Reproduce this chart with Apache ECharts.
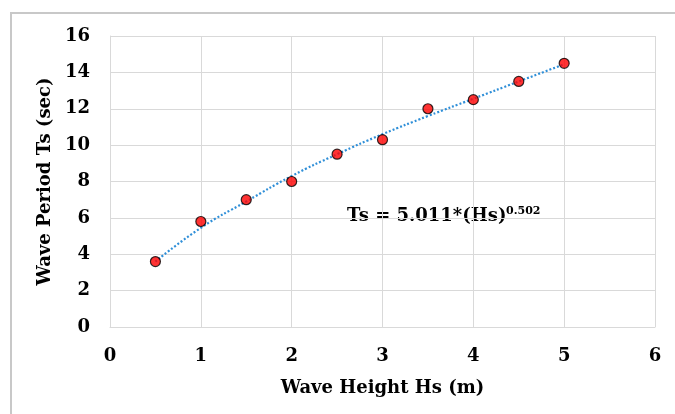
<!DOCTYPE html>
<html><head><meta charset="utf-8">
<script src="https://cdn.jsdelivr.net/npm/echarts@6/dist/echarts.min.js"></script>
<style>html,body{margin:0;padding:0;background:#fff}#c{width:675px;height:414px}</style>
</head><body><div id="c"></div>
<script>
const waveHeight = [0.5, 1, 1.5, 2, 2.5, 3, 3.5, 4, 4.5, 5];
const wavePeriod = [3.6, 5.8, 7.0, 8.0, 9.5, 10.3, 12.0, 12.5, 13.5, 14.5];
const trendX = [0.5, 1, 1.5, 2, 2.5, 3, 3.5, 4, 4.5, 5];
const trendY = [3.6, 5.45, 6.9, 8.3, 9.5, 10.6, 11.6, 12.55, 13.5, 14.45];
const xTitle = 'Wave Height Hs (m)';
const yTitle = 'Wave Period Ts (sec)';
const eqMain = 'Ts = 5.011*(Hs)';
const eqExp = '0.502';

const F = 'DejaVu Serif';
const chart = echarts.init(document.getElementById('c'), null, {renderer: 'canvas'});
chart.setOption({
  animation: false,
  backgroundColor: '#fff',
  grid: {left: 110, right: 20, top: 36, bottom: 87},
  graphic: [
    {type: 'rect', shape: {x: 11, y: 13, width: 700, height: 450}, style: {fill: 'none', stroke: '#c8c8c8', lineWidth: 2}, z: -1},
    {type: 'text', x: 347, y: 216, style: {text: eqMain, fontFamily: F, fontWeight: 'bold', fontSize: 18, fill: '#000', textVerticalAlign: 'middle', verticalAlign: 'middle'}},
    {type: 'text', x: 506, y: 211, style: {text: eqExp, fontFamily: F, fontWeight: 'bold', fontSize: 11, fill: '#000', textVerticalAlign: 'middle', verticalAlign: 'middle'}}
  ],
  xAxis: {
    type: 'value', min: 0, max: 6, interval: 1,
    name: xTitle, nameLocation: 'middle', nameGap: 52,
    nameTextStyle: {fontFamily: F, fontWeight: 'bold', fontSize: 18, color: '#000'},
    axisLine: {show: true, lineStyle: {color: '#d9d9d9'}},
    axisTick: {show: false},
    axisLabel: {fontFamily: F, fontWeight: 'bold', fontSize: 18, color: '#000', margin: 20},
    splitLine: {show: true, lineStyle: {color: '#d9d9d9'}}
  },
  yAxis: {
    type: 'value', min: 0, max: 16, interval: 2,
    name: yTitle, nameLocation: 'middle', nameGap: 56,
    nameTextStyle: {fontFamily: F, fontWeight: 'bold', fontSize: 18, color: '#000'},
    axisLine: {show: true, lineStyle: {color: '#d9d9d9'}},
    axisTick: {show: false},
    axisLabel: {fontFamily: F, fontWeight: 'bold', fontSize: 18, color: '#000', margin: 20},
    splitLine: {show: true, lineStyle: {color: '#d9d9d9'}}
  },
  series: [
    {type: 'line', data: trendX.map((x, i) => [x, trendY[i]]), smooth: true, symbol: 'none',
     lineStyle: {color: '#2f8fd8', width: 2.2, type: [2, 2]}, z: 2},
    {type: 'scatter', data: waveHeight.map((x, i) => [x, wavePeriod[i]]), symbol: 'circle', symbolSize: 10,
     itemStyle: {color: '#ff0000', borderColor: '#000', borderWidth: 1.2}, z: 3}
  ]
});
</script></body></html>
